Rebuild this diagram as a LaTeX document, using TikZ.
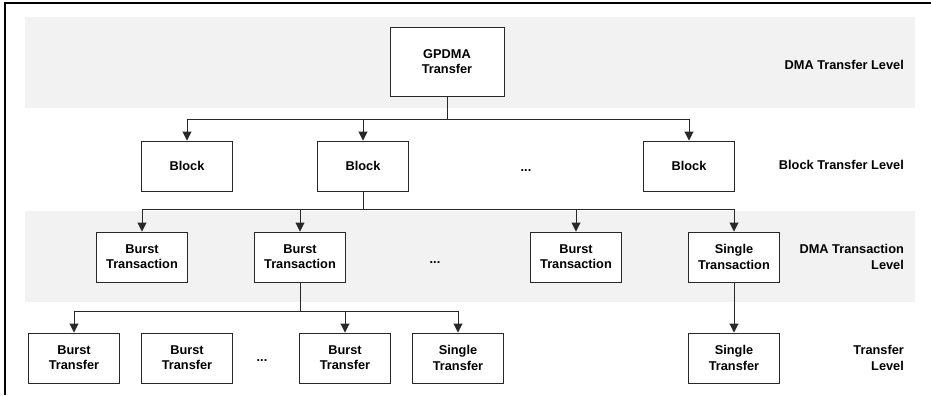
\documentclass[tikz,border=0pt]{standalone}
\usepackage{fontspec}
\setmainfont{Liberation Sans}
\usepackage{tikz}
\usetikzlibrary{arrows.meta,positioning,calc}
\definecolor{bandgray}{RGB}{242,242,242}
\definecolor{boxline}{RGB}{40,40,40}

\begin{document}
\begin{tikzpicture}[
    box/.style={rectangle, draw=boxline, fill=white, line width=0.8pt,
                minimum width=2.73cm, minimum height=1.5cm, align=center,
                font=\bfseries\fontsize{10.9}{13}\selectfont, inner sep=2pt},
    lvl/.style={anchor=east, align=right, font=\bfseries\fontsize{10.9}{13}\selectfont},
    dots/.style={font=\bfseries\fontsize{10.9}{13}\selectfont},
    band/.style={fill=bandgray, draw=none},
    arr/.style={-{Triangle[length=2.7mm, width=2.7mm]}, line width=0.8pt, boxline}
]
    \useasboundingbox (0,0) rectangle (27.93,11.85);
    % frame on left and top only
    \draw[line width=1pt] (0.15,0) |- (27.93,11.76);

    % shaded level bands
    \fill[band] (0.75,8.61) rectangle (27.45,11.34);
    \fill[band] (0.75,2.79) rectangle (27.45,5.52);

    % DMA transfer level
    \node[box, minimum width=3.42cm, minimum height=2.07cm] (gpdma) at (13.41,10.0) {GPDMA\\Transfer};

    % block transfer level
    \node[box] (blk1) at (5.61,6.87) {Block};
    \node[box] (blk2) at (10.89,6.87) {Block};
    \node[dots] (bdots) at (15.78,6.72) {...};
    \node[box] (blk3) at (20.67,6.87) {Block};

    % DMA transaction level
    \node[box] (btx1) at (4.26,4.14) {Burst\\Transaction};
    \node[box] (btx2) at (9.0,4.14) {Burst\\Transaction};
    \node[dots] (txdots) at (13.05,3.96) {...};
    \node[box] (btx3) at (17.28,4.14) {Burst\\Transaction};
    \node[box] (stx) at (22.02,4.14) {Single\\Transaction};

    % transfer level
    \node[box] (btr1) at (2.22,1.11) {Burst\\Transfer};
    \node[box] (btr2) at (5.61,1.11) {Burst\\Transfer};
    \node[dots] (trdots) at (7.86,1.02) {...};
    \node[box] (btr3) at (10.35,1.11) {Burst\\Transfer};
    \node[box] (str1) at (13.74,1.11) {Single\\Transfer};
    \node[box] (str2) at (22.02,1.11) {Single\\Transfer};

    % level captions
    \node[lvl] (l1) at (27.24,9.9) {DMA Transfer Level};
    \node[lvl] (l2) at (27.24,6.9) {Block Transfer Level};
    \node[lvl] (l3) at (27.24,4.14) {DMA Transaction\\Level};
    \node[lvl] (l4) at (27.24,1.11) {Transfer\\Level};

    \draw[arr] (gpdma.south) -- ++(0,-0.68) -| (blk1.north);
    \draw[arr] (gpdma.south) -- ++(0,-0.68) -| (blk2.north);
    \draw[arr] (gpdma.south) -- ++(0,-0.68) -| (blk3.north);

    \draw[arr] (blk2.south) -- ++(0,-0.54) -| (btx1.north);
    \draw[arr] (blk2.south) -- ++(0,-0.54) -| (btx2.north);
    \draw[arr] (blk2.south) -- ++(0,-0.54) -| (btx3.north);
    \draw[arr] (blk2.south) -- ++(0,-0.54) -| (stx.north);

    \draw[arr] (btx2.south) -- ++(0,-0.87) -| (btr1.north);
    \draw[arr] (btx2.south) -- ++(0,-0.87) -| (btr3.north);
    \draw[arr] (btx2.south) -- ++(0,-0.87) -| (str1.north);

    \draw[arr] (stx) -- (str2);
\end{tikzpicture}
\end{document}
